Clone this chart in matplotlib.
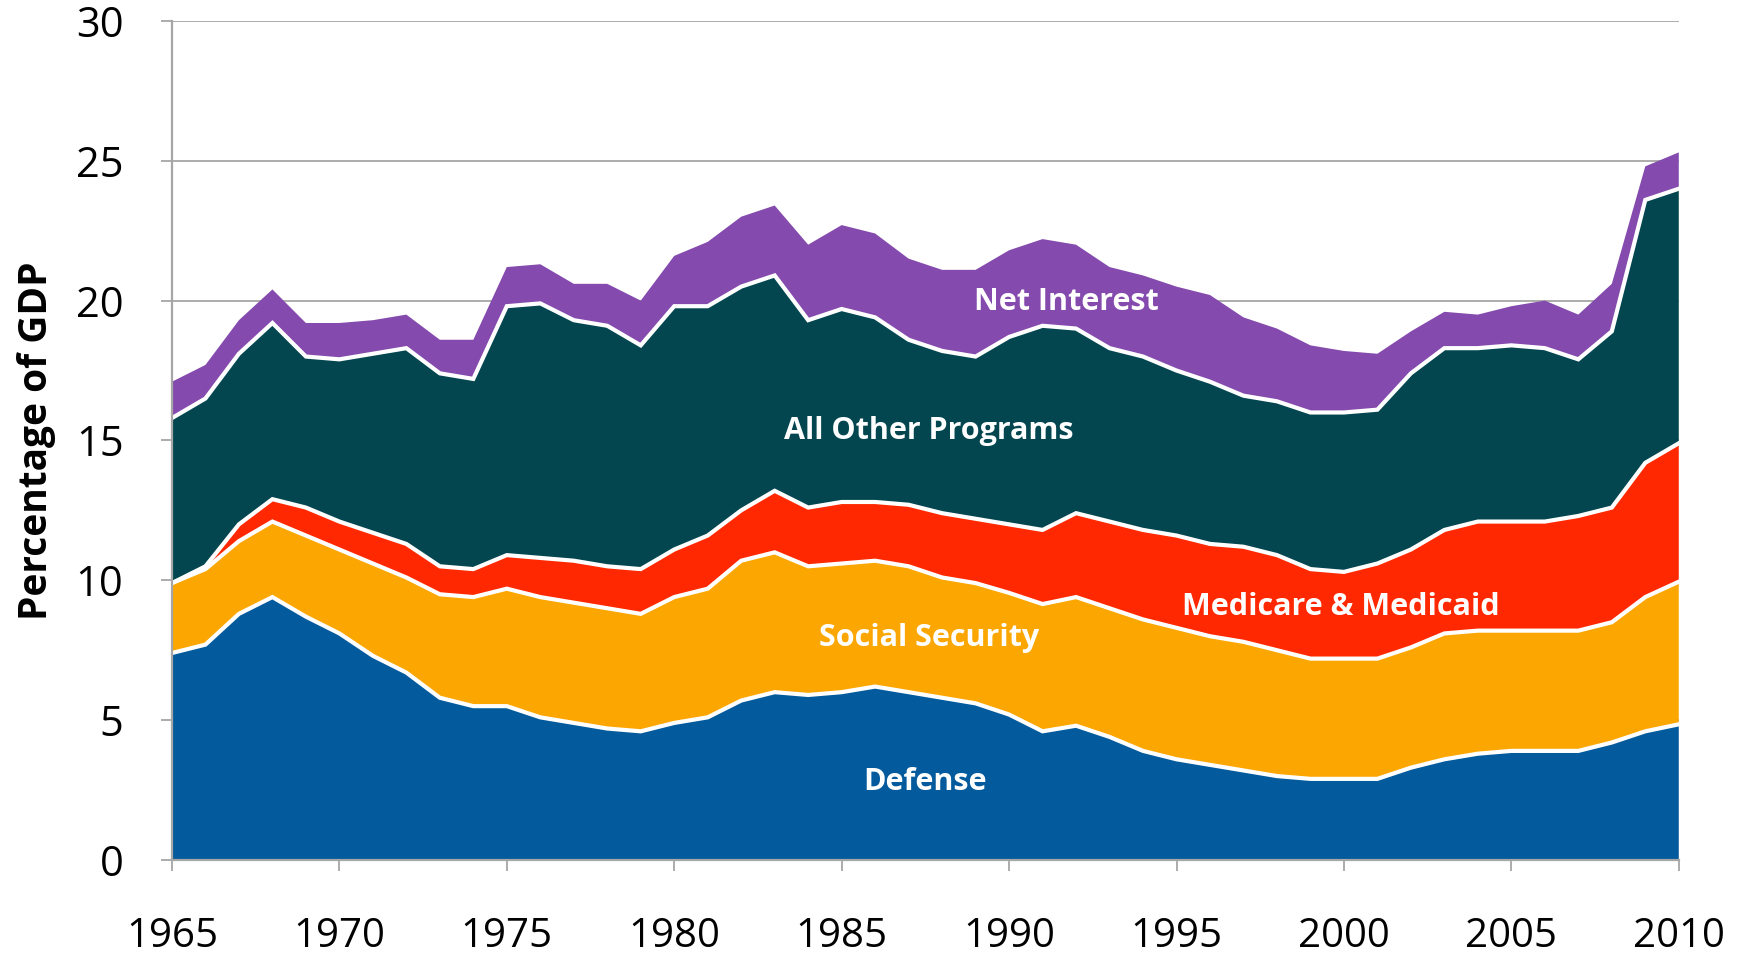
import numpy as np
import matplotlib
matplotlib.use('Agg')
import matplotlib.pyplot as plt

years = list(range(1965, 2011))

# percentage of GDP
defense = [7.4, 7.7, 8.8, 9.4, 8.7, 8.1, 7.3, 6.7, 5.8, 5.5,
           5.5, 5.1, 4.9, 4.7, 4.6, 4.9, 5.1, 5.7, 6.0, 5.9,
           6.0, 6.2, 6.0, 5.8, 5.6, 5.2, 4.6, 4.8, 4.4, 3.9,
           3.6, 3.4, 3.2, 3.0, 2.9, 2.9, 2.9, 3.3, 3.6, 3.8,
           3.9, 3.9, 3.9, 4.2, 4.6, 4.85]
social_security = [2.5, 2.7, 2.6, 2.7, 2.9, 3.0, 3.3, 3.4, 3.7, 3.9,
                   4.2, 4.3, 4.3, 4.3, 4.2, 4.5, 4.6, 5.0, 5.0, 4.6,
                   4.6, 4.5, 4.5, 4.3, 4.3, 4.35, 4.55, 4.6, 4.6, 4.7,
                   4.7, 4.6, 4.6, 4.5, 4.3, 4.3, 4.3, 4.3, 4.5, 4.4,
                   4.3, 4.3, 4.3, 4.3, 4.8, 5.1]
medicare_medicaid = [0.0, 0.1, 0.6, 0.8, 1.0, 1.0, 1.1, 1.2, 1.0, 1.0,
                     1.2, 1.4, 1.5, 1.5, 1.6, 1.7, 1.9, 1.8, 2.2, 2.1,
                     2.2, 2.1, 2.2, 2.3, 2.3, 2.45, 2.65, 3.0, 3.1, 3.2,
                     3.3, 3.3, 3.4, 3.4, 3.2, 3.1, 3.4, 3.5, 3.7, 3.9,
                     3.9, 3.9, 4.1, 4.1, 4.8, 4.95]
all_other = [5.9, 6.0, 6.1, 6.3, 5.4, 5.8, 6.4, 7.0, 6.9, 6.8,
             8.9, 9.1, 8.6, 8.6, 8.0, 8.7, 8.2, 8.0, 7.7, 6.7,
             6.9, 6.6, 5.9, 5.8, 5.8, 6.7, 7.3, 6.6, 6.2, 6.2,
             5.9, 5.8, 5.4, 5.5, 5.6, 5.7, 5.5, 6.3, 6.5, 6.2,
             6.3, 6.2, 5.6, 6.3, 9.4, 9.1]
net_interest = [1.3, 1.2, 1.2, 1.2, 1.2, 1.3, 1.2, 1.2, 1.2, 1.4,
                1.4, 1.4, 1.3, 1.5, 1.6, 1.8, 2.3, 2.5, 2.5, 2.7,
                3.0, 3.0, 2.9, 2.9, 3.1, 3.1, 3.1, 3.0, 2.9, 2.9,
                3.0, 3.1, 2.8, 2.6, 2.4, 2.2, 2.0, 1.5, 1.3, 1.2,
                1.4, 1.7, 1.6, 1.7, 1.2, 1.3]

series = [defense, social_security, medicare_medicaid, all_other, net_interest]
names = ['Defense', 'Social Security', 'Medicare & Medicaid', 'All Other Programs', 'Net Interest']
colors = ['#035A9C', '#FCA602', '#FF2800', '#03464F', '#844AAD']
label_pos = [(1987.5, 2.8), (1987.6, 7.95), (1999.9, 9.05), (1987.6, 15.35), (1991.7, 19.95)]

FONT = ['Open Sans', 'DejaVu Sans']

fig = plt.figure(figsize=(17.44, 9.6), dpi=100)
ax = fig.add_axes([0.0986, 0.1042, 0.864, 0.874])

ax.stackplot(years, *series, colors=colors, linewidth=0, zorder=2)
cum = np.cumsum(np.array(series, dtype=float), axis=0)
for row in cum[:4]:
    ax.plot(years, row, color='white', lw=3, solid_joinstyle='miter', zorder=3)

for name, (x, y) in zip(names, label_pos):
    ax.text(x, y, name, color='white', fontsize=22, fontweight='bold',
            family=FONT, ha='center', va='center', zorder=4)

ax.set_xlim(1965, 2010)
ax.set_ylim(0, 30)
ax.set_xticks(range(1965, 2011, 5))
ax.set_yticks(range(0, 31, 5))
ax.yaxis.grid(True, color='#A6A6A6', lw=1.3, zorder=0)
ax.set_axisbelow(True)
for s in ['top', 'right']:
    ax.spines[s].set_visible(False)
for s in ['left', 'bottom']:
    ax.spines[s].set_color('#A6A6A6')
    ax.spines[s].set_linewidth(1.6)
    ax.spines[s].set_zorder(5)
ax.tick_params(axis='y', length=8, width=1.3, color='#A6A6A6', pad=27,
               labelsize=30)
ax.tick_params(axis='x', length=8, width=1.3, color='#A6A6A6', pad=33,
               labelsize=29)
for lab in ax.get_xticklabels() + ax.get_yticklabels():
    lab.set_family(FONT)

ax.set_ylabel('Percentage of GDP', fontsize=28, fontweight='bold', family=FONT,
              labelpad=14)

fig.savefig('out.png', dpi=100)
